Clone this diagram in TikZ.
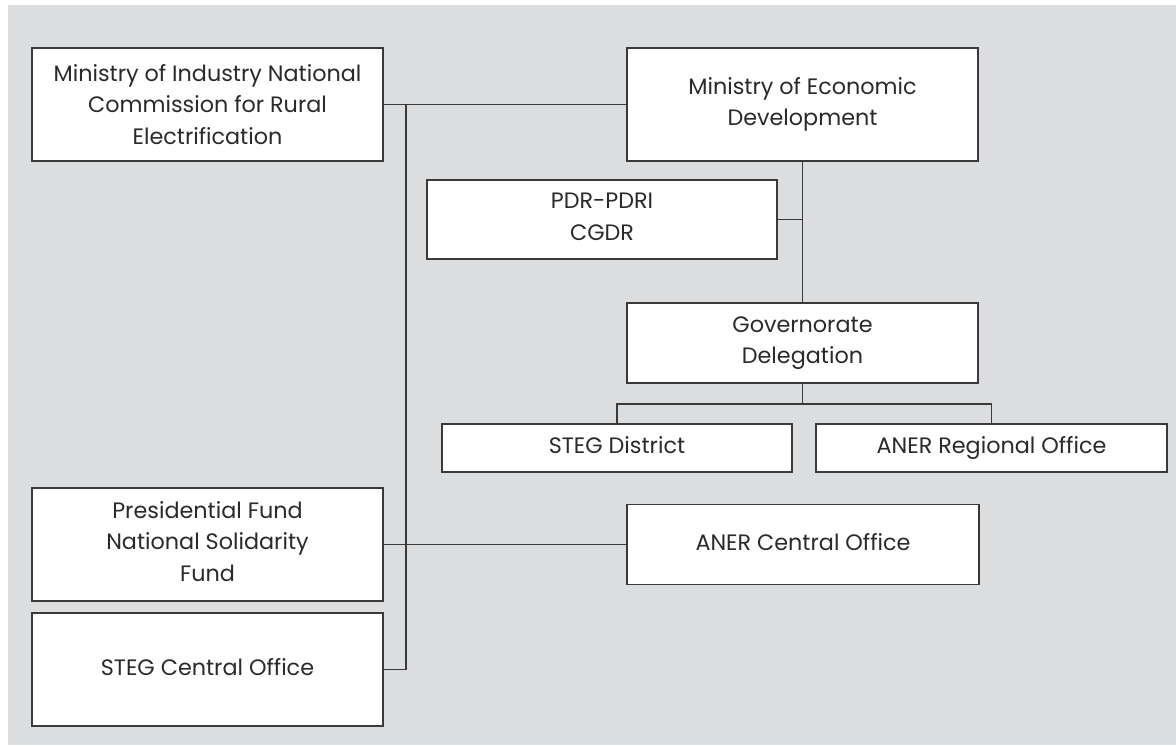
\documentclass[tikz,border=0pt]{standalone}
\usepackage{fontspec}
\setmainfont{Poppins}
\definecolor{bg}{HTML}{DCDDDF}
\definecolor{ink}{HTML}{2A2A2A}
\definecolor{edge}{HTML}{3A3A3A}
\newcommand{\vp}{\vphantom{Ag}}
\begin{document}
\begin{tikzpicture}[x=1pt,y=-1pt,
  box/.style={draw=edge,line width=1.2pt,fill=white,align=center,text=ink,
    inner sep=0pt,font=\fontsize{22.3}{31.7}\selectfont},
  conn/.style={draw=edge,line width=1.2pt}]
\useasboundingbox (0,0) rectangle (1176,745);
\fill[bg] (8,5) rectangle (1176,745);
\node[box,minimum width=351pt,minimum height=113pt] (mi) at (207.5,104.5) {Ministry of Industry National\\Commission for Rural\\Electrification};
\node[box,minimum width=351pt,minimum height=113pt] (med) at (802.5,104.5) {Ministry of Economic\\Development};
\node[box,minimum width=350pt,minimum height=79pt] (pdr) at (602,219.5) {PDR-PDRI\\CGDR\vp};
\node[box,minimum width=351pt,minimum height=80pt] (gov) at (802.5,343) {Governorate\\Delegation};
\node[box,minimum width=350pt,minimum height=48pt] (sd) at (617,448) {STEG District\vp};
\node[box,minimum width=351pt,minimum height=48pt] (ar) at (991.5,448) {ANER Regional Office\vp};
\node[box,minimum width=351pt,minimum height=113pt] (pf) at (207.5,544.5) {Presidential Fund\\National Solidarity\\Fund\vp};
\node[box,minimum width=351pt,minimum height=113pt] (sc) at (207.5,669.5) {STEG Central Office\vp};
\node[box,minimum width=352pt,minimum height=80pt] (ac) at (803,544.5) {ANER Central Office\vp};
\coordinate (tt) at (406,104.5);
\coordinate (br) at (802.5,404);
\draw[conn] (mi.east) -- (med.west);
\draw[conn] (tt) -- (tt |- sc.east) -- (sc.east);
\draw[conn] (pf.east) -- (ac.west);
\draw[conn] (med.south) -- (gov.north);
\draw[conn] (pdr.east) -- (pdr.east -| med.south);
\draw[conn] (gov.south) -- (br);
\draw[conn] (sd.north) |- (br) -| (ar.north);
\end{tikzpicture}
\end{document}
